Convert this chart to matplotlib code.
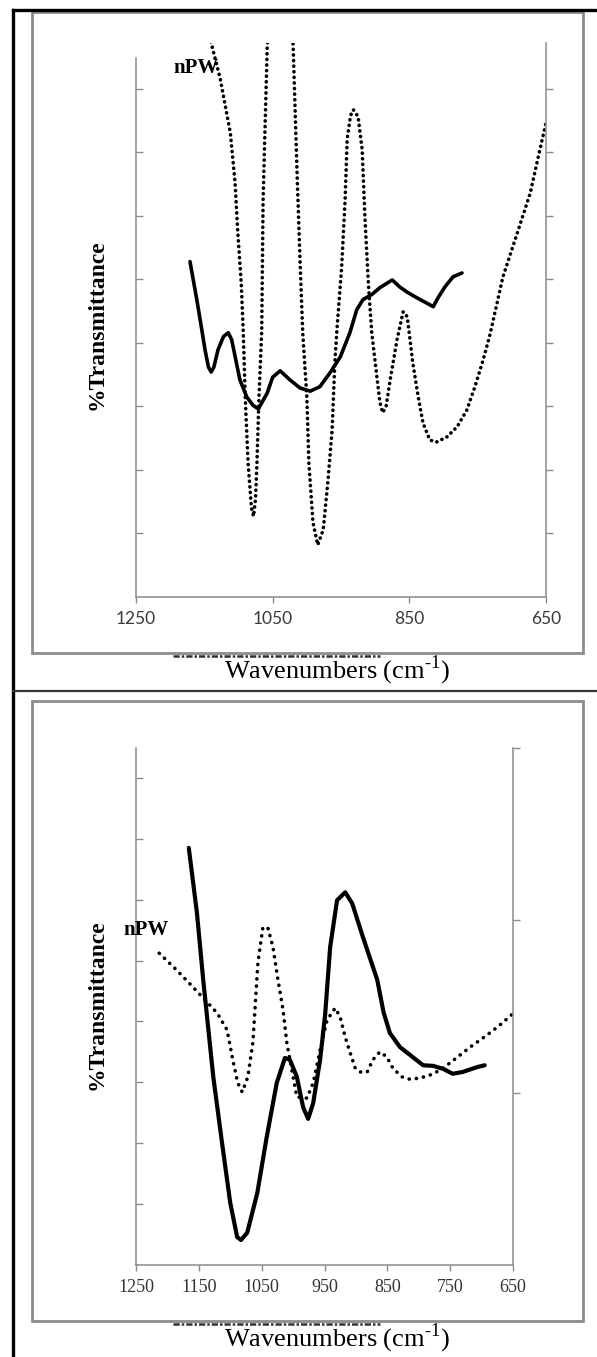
import matplotlib
matplotlib.use("Agg")
import matplotlib.pyplot as plt
from matplotlib.patches import Rectangle
from matplotlib.lines import Line2D

# ---------------- data ----------------
# Panel 1 (top)
p1_dot_w = [1145, 1140, 1127, 1112, 1105, 1101, 1096, 1093, 1090, 1086, 1081, 1078, 1075, 1073,
            1070, 1066, 1064, 1058, 1052, 1040, 1027, 1020, 1014, 1010, 1006, 1000, 997, 991,
            984, 976, 969, 963, 959, 956, 949, 944, 941, 936, 932, 925, 919, 915, 910, 905,
            897, 893, 889, 884, 878, 868, 859, 853, 845, 837, 830, 820, 810, 795, 780, 766,
            754, 742, 732, 713, 692, 673, 659, 649]
p1_dot_t = [9.0, 8.72, 8.17, 7.31, 6.52, 5.73, 4.94, 4.16, 3.10, 2.11, 1.40, 1.27, 1.55, 2.11,
            3.15, 4.20, 6.25, 8.65, 10.0, 11.0, 10.0, 8.66, 6.57, 5.31, 4.16, 3.15, 2.11, 1.17,
            0.82, 1.06, 1.84, 2.63, 3.69, 4.20, 5.20, 6.25, 7.20, 7.58, 7.67, 7.56, 7.04, 5.98,
            4.94, 4.16, 3.42, 3.06, 2.90, 3.00, 3.42, 4.05, 4.49, 4.41, 3.69, 3.15, 2.74, 2.47,
            2.44, 2.52, 2.68, 2.94, 3.31, 3.73, 4.13, 5.04, 5.73, 6.36, 7.04, 7.51]

p1_sol_w = [1171, 1161, 1153, 1149, 1144, 1140, 1136, 1130, 1122, 1115, 1110, 1098, 1088, 1079,
            1071, 1058, 1050, 1039, 1025, 1010, 995, 981, 966, 951, 937, 927, 918, 905, 893,
            875, 864, 852, 839, 815, 808, 798, 786, 773]
p1_sol_t = [5.28, 4.68, 4.16, 3.89, 3.62, 3.54, 3.62, 3.89, 4.10, 4.16, 4.05, 3.42, 3.15, 3.02,
            2.96, 3.21, 3.46, 3.56, 3.42, 3.29, 3.24, 3.31, 3.53, 3.78, 4.16, 4.52, 4.68, 4.76,
            4.87, 4.99, 4.88, 4.79, 4.71, 4.57, 4.71, 4.88, 5.04, 5.10]

# Panel 2 (bottom)
p2_dot_w = [1213, 1185, 1159, 1140, 1121, 1105, 1096, 1088, 1081, 1072, 1064, 1056, 1048, 1040,
            1032, 1024, 1016, 1010, 1000, 994, 978, 968, 957, 946, 933, 925, 917, 909, 901,
            893, 882, 873, 862, 851, 841, 827, 814, 798, 782, 766, 750, 734, 718, 703, 687,
            671, 652]
p2_dot_t = [5.12, 4.84, 4.56, 4.35, 4.14, 3.86, 3.37, 2.99, 2.84, 3.09, 3.65, 4.96, 5.55, 5.53,
            5.22, 4.68, 4.19, 3.65, 3.09, 2.76, 2.74, 2.99, 3.53, 4.02, 4.22, 4.07, 3.74, 3.48,
            3.23, 3.17, 3.17, 3.37, 3.50, 3.42, 3.23, 3.09, 3.05, 3.07, 3.12, 3.20, 3.32, 3.45,
            3.58, 3.69, 3.81, 3.94, 4.11]

p2_sol_w = [1166, 1153, 1143, 1127, 1113, 1100, 1089, 1083, 1073, 1057, 1042, 1026, 1013, 1005,
            994, 984, 976, 968, 957, 949, 941, 930, 917, 906, 889, 866, 856, 846, 830, 814,
            793, 777, 761, 746, 730, 707, 695]
p2_sol_t = [6.85, 5.78, 4.68, 3.09, 2.00, 1.02, 0.46, 0.41, 0.53, 1.18, 2.10, 2.99, 3.40, 3.37,
            3.09, 2.59, 2.40, 2.66, 3.37, 4.11, 5.22, 5.99, 6.12, 5.94, 5.39, 4.68, 4.15, 3.81,
            3.58, 3.45, 3.28, 3.27, 3.22, 3.14, 3.17, 3.25, 3.28]

p1_xticks = [1250, 1050, 850, 650]
p2_xticks = [1250, 1150, 1050, 950, 850, 750, 650]
series_label = "nPW"
ylabel = "%Transmittance"
xlabel = "Wavenumbers (cm$^{\\mathregular{\u2010}\\mathregular{1}}$)"

# ---------------- layout ----------------
W, H = 597, 1357
fig = plt.figure(figsize=(W / 100, H / 100), dpi=100)
fig.patch.set_facecolor("white")

def fx(px):
    return px / W

def fy(py):
    return 1 - py / H

SERIF = ["Liberation Serif", "DejaVu Serif"]
SPINE = "#8a8a8a"

def make_panel(left, right, top, bottom, ylim_top, left_top, right_ylim, right_ticks,
               xticks, tickfont, tickcolor, ticksize):
    ax = fig.add_axes([fx(left), fy(bottom), fx(right) - fx(left), fy(top) - fy(bottom)])
    ax.set_xlim(1250, 650)
    ax.set_ylim(0, ylim_top)
    ax.patch.set_alpha(0)
    for s in ["top", "right"]:
        ax.spines[s].set_visible(False)
    ax.spines["left"].set_bounds(0, left_top)
    for s in ["left", "bottom"]:
        ax.spines[s].set_color(SPINE)
        ax.spines[s].set_linewidth(1.1)
    ax.set_yticks(range(1, int(left_top) + 1))
    ax.set_yticklabels([])
    ax.tick_params(axis="y", direction="in", length=5, color=SPINE, width=1.0)
    ax.set_xticks(xticks)
    ax.set_xticklabels([str(t) for t in xticks], fontfamily=tickfont, color=tickcolor,
                       fontsize=ticksize)
    ax.tick_params(axis="x", direction="out", length=4, color=SPINE, width=1.0, pad=6)
    ax2 = ax.twinx()
    ax2.set_ylim(*right_ylim)
    for s in ["top", "left", "bottom"]:
        ax2.spines[s].set_visible(False)
    ax2.spines["right"].set_color(SPINE)
    ax2.spines["right"].set_linewidth(1.1)
    ax2.set_yticks(right_ticks)
    ax2.set_yticklabels([])
    ax2.tick_params(axis="y", direction="out", length=5, color=SPINE, width=1.0)
    return ax

# Panel 1
ax1 = make_panel(136, 546, 43, 597, 8.72, 8.49, (0, 8.72), list(range(1, 9)),
                 p1_xticks, ["Lato", "DejaVu Sans"], "#3a3a3a", 12.5)
ax1.plot(p1_dot_w, p1_dot_t, color="black", lw=2.6, linestyle=(0, (0.05, 1.5)),
         dash_capstyle="round")
ax1.plot(p1_sol_w, p1_sol_t, color="black", lw=2.6, solid_capstyle="round",
         solid_joinstyle="round")

# Panel 2
ax2 = make_panel(136, 513, 748, 1265, 8.49, 8.49, (0, 3), [1, 2, 3],
                 p2_xticks, SERIF, "#333333", 13)
ax2.plot(p2_dot_w, p2_dot_t, color="black", lw=2.6, linestyle=(0, (0.05, 1.95)),
         dash_capstyle="round")
ax2.plot(p2_sol_w, p2_sol_t, color="black", lw=3.0, solid_capstyle="round",
         solid_joinstyle="round")

# ---------------- frames ----------------
for (y0, y1) in [(12, 653), (701, 1321)]:
    fig.add_artist(Rectangle((fx(32), fy(y1)), fx(583) - fx(32), fy(y0) - fy(y1),
                             transform=fig.transFigure, fill=False, edgecolor="#8c8c8c",
                             lw=2.0))
    # fragment band left over from a hidden label, just under the frame
    fig.add_artist(Line2D([fx(173), fx(380)], [fy(y1 + 3), fy(y1 + 3)],
                          transform=fig.transFigure, color="#333333", lw=1.8,
                          linestyle=(0, (2.5, 0.8, 1.0, 0.8))))
# outer black border
fig.add_artist(Line2D([fx(13), fx(597)], [fy(10), fy(10)], transform=fig.transFigure,
                      color="black", lw=2.4))
fig.add_artist(Line2D([fx(13), fx(13)], [fy(10), fy(1357)], transform=fig.transFigure,
                      color="black", lw=2.4))
# separator
fig.add_artist(Line2D([fx(13), fx(597)], [fy(691), fy(691)], transform=fig.transFigure,
                      color="#333333", lw=1.6))

# ---------------- texts ----------------
for (nx, ny, ty, wy) in [(173, 68, 325, 670), (123, 930, 1005, 1338)]:
    fig.text(fx(nx), fy(ny), series_label, fontfamily=SERIF, fontweight="bold",
             fontsize=15, ha="left", va="center")
    fig.text(fx(97), fy(ty), ylabel, fontfamily=SERIF, fontweight="bold", fontsize=17,
             rotation=90, ha="center", va="center")
    fig.text(fx(337), fy(wy), xlabel, fontfamily=SERIF, fontsize=19, ha="center",
             va="center")

fig.savefig("out.png", dpi=100)
